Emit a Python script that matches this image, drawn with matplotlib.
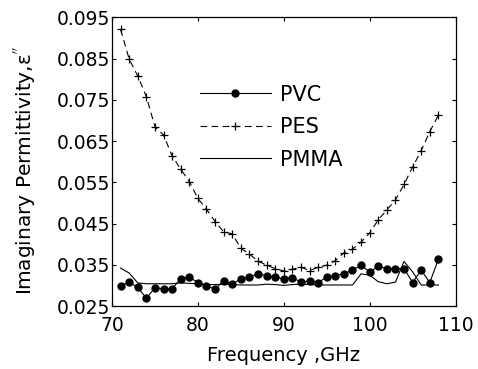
import matplotlib
matplotlib.use("Agg")
import matplotlib.pyplot as plt
import numpy as np

plt.rcParams['font.family'] = ['DejaVu Sans']
plt.rcParams['mathtext.fontset'] = 'dejavusans'

freq = list(range(71, 109))

pvc = [0.0299, 0.0308, 0.0295, 0.0269, 0.0294, 0.0292, 0.0292, 0.0316, 0.0320, 0.0307,
       0.0299, 0.0291, 0.0311, 0.0303, 0.0316, 0.0320, 0.0328, 0.0324, 0.0320, 0.0316,
       0.0319, 0.0308, 0.0311, 0.0307, 0.0320, 0.0324, 0.0328, 0.0337, 0.0349, 0.0333,
       0.0346, 0.0341, 0.0341, 0.0341, 0.0307, 0.0337, 0.0307, 0.0363]

pes = [0.0921, 0.0849, 0.0808, 0.0758, 0.0685, 0.0665, 0.0614, 0.0582, 0.0552, 0.0511,
       0.0485, 0.0455, 0.0430, 0.0425, 0.0390, 0.0376, 0.0359, 0.0349, 0.0341, 0.0335,
       0.0339, 0.0344, 0.0336, 0.0344, 0.0349, 0.0360, 0.0379, 0.0388, 0.0405, 0.0427,
       0.0459, 0.0483, 0.0507, 0.0545, 0.0587, 0.0627, 0.0673, 0.0713]

pmma = [0.0342, 0.0330, 0.0306, 0.0304, 0.0304, 0.0304, 0.0304, 0.0306, 0.0305, 0.0304,
        0.0302, 0.0302, 0.0303, 0.0302, 0.0301, 0.0301, 0.0301, 0.0303, 0.0302, 0.0300,
        0.0302, 0.0303, 0.0302, 0.0301, 0.0301, 0.0301, 0.0301, 0.0301, 0.0328, 0.0325,
        0.0309, 0.0304, 0.0308, 0.0358, 0.0333, 0.0301, 0.0301, 0.0301]

xticks = [70, 80, 90, 100, 110]
yticks = [0.025, 0.035, 0.045, 0.055, 0.065, 0.075, 0.085, 0.095]

fig = plt.figure(figsize=(4.78, 3.69), dpi=100)
ax = fig.add_axes([0.2343, 0.1707, 0.7187, 0.7819])

ax.plot(freq, pvc, '-', color='black', lw=0.8, marker='o', ms=5, label='PVC')
ax.plot(freq, pes, '--', color='black', lw=0.8, marker='+', ms=6, mew=0.9,
        dashes=(6, 4), label='PES')
ax.plot(freq, pmma, '-', color='black', lw=0.8, label='PMMA')

ax.set_xlim(70, 110)
ax.set_ylim(0.025, 0.095)
ax.set_xticks(xticks)
ax.set_yticks(yticks)
ax.set_yticklabels([f"{v:.3f}" for v in yticks])
ax.tick_params(direction='in', top=True, right=True, labelsize=13.5, length=3, width=0.8)
ax.tick_params(axis='x', pad=7)
ax.tick_params(axis='y', pad=1)
for s in ax.spines.values():
    s.set_linewidth(0.9)

ax.set_xlabel('Frequency ,GHz', fontsize=14, labelpad=8)
ax.set_ylabel("Imaginary Permittivity,ε$^{''}$", fontsize=14.5)
ax.yaxis.set_label_coords(-0.215, 0.47)

leg = ax.legend(loc='center left', bbox_to_anchor=(0.256, 0.62), frameon=False,
                fontsize=15, handlelength=3.4, handletextpad=0.45, labelspacing=0.6,
                borderaxespad=0, borderpad=0)

fig.savefig('out.png', dpi=100)
